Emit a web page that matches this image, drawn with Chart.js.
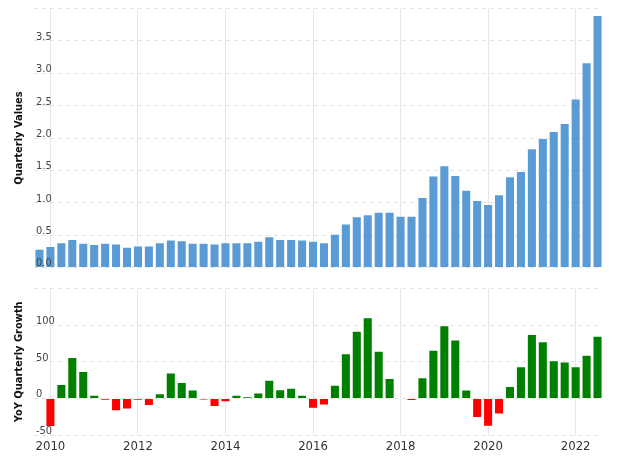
<!DOCTYPE html>
<html>
<head>
<meta charset="utf-8">
<script src="https://cdn.jsdelivr.net/npm/chart.js@4.4.0/dist/chart.umd.min.js"></script>
<style>
  html, body { margin: 0; padding: 0; background: #fff; }
  #wrap { position: relative; width: 624px; height: 456px; }
  .box { position: absolute; left: 0; width: 624px; }
</style>
</head>
<body>
<div id="wrap">
  <div class="box" style="top:0;height:276px"><canvas id="valuesChart"></canvas></div>
  <div class="box" style="top:280px;height:176px"><canvas id="growthChart"></canvas></div>
</div>
<script>
// quarter end months, Q3 2009 .. Q2 2022
const quarters = [
  '2009-09', '2009-12',
  '2010-03', '2010-06', '2010-09', '2010-12',
  '2011-03', '2011-06', '2011-09', '2011-12',
  '2012-03', '2012-06', '2012-09', '2012-12',
  '2013-03', '2013-06', '2013-09', '2013-12',
  '2014-03', '2014-06', '2014-09', '2014-12',
  '2015-03', '2015-06', '2015-09', '2015-12',
  '2016-03', '2016-06', '2016-09', '2016-12',
  '2017-03', '2017-06', '2017-09', '2017-12',
  '2018-03', '2018-06', '2018-09', '2018-12',
  '2019-03', '2019-06', '2019-09', '2019-12',
  '2020-03', '2020-06', '2020-09', '2020-12',
  '2021-03', '2021-06', '2021-09', '2021-12',
  '2022-03', '2022-06'
];

const quarterlyValues = [
  0.29, 0.33,
  0.39, 0.44, 0.38, 0.36,
  0.38, 0.37, 0.32, 0.34,
  0.34, 0.39, 0.43, 0.42,
  0.38, 0.38, 0.37, 0.39,
  0.39, 0.39, 0.41, 0.48,
  0.44, 0.44, 0.43, 0.41,
  0.39, 0.52, 0.68, 0.79,
  0.82, 0.86, 0.86, 0.80,
  0.80, 1.09, 1.42, 1.58,
  1.43, 1.20, 1.04, 0.98,
  1.13, 1.41, 1.49, 1.84,
  2.00, 2.11, 2.23, 2.61,
  3.17, 3.90
];

// YoY growth starts at Q4 2009
const yoyGrowth = [
  -39,
  19.6, 56.7, 37.5, 4.9,
  -2.7, -17.4, -15.2, -2.7,
  -10.3, 7.1, 35.3, 22.3,
  12.1, -2.2, -11.6, -5.4,
  4.9, 2.7, 8.0, 25.4,
  12.5, 14.7, 4.9, -14.3,
  -9.8, 18.8, 61.6, 92.4,
  110.7, 65.2, 27.7, 0.5,
  -3.5, 29.0, 66.5, 100,
  80.4, 12.1, -26.8, -38.8,
  -21.9, 17.0, 43.8, 87.9,
  78.1, 52.2, 50.4, 43.8,
  59.8, 85.7
];

const yearTicks = [2010, 2012, 2014, 2016, 2018, 2020, 2022];
const valueTicks = [0, 0.5, 1.0, 1.5, 2.0, 2.5, 3.0, 3.5, 4.0];
const growthTicks = [-50, 0, 50, 100, 150];

const FONT = '"DejaVu Sans Condensed", "DejaVu Sans", Verdana, sans-serif';

function toYear(q) {
  const [y, m] = q.split('-').map(Number);
  return y + m / 12;
}

const xValues = quarters.map(toYear);
const growthX = xValues.slice(quarters.length - yoyGrowth.length);

function xScale(showLabels, height) {
  return {
    type: 'linear',
    offset: false,
    min: 2009.625,
    max: 2022.625,
    afterBuildTicks: axis => { axis.ticks = yearTicks.map(v => ({ value: v })); },
    afterFit: axis => { axis.height = height; },
    grid: { color: '#e6e6e6', drawTicks: false, lineWidth: 1, offset: false },
    border: { display: false },
    ticks: {
      display: showLabels,
      padding: 4,
      color: '#333',
      font: { family: FONT, size: 13 },
      callback: v => String(v)
    }
  };
}

function yScale(title, min, max, ticks, fmt) {
  return {
    min: min,
    max: max,
    afterBuildTicks: axis => { axis.ticks = ticks.map(v => ({ value: v })); },
    afterFit: axis => { axis.width = 34; },
    border: { display: false, dash: [4, 4] },
    grid: { color: '#e3e3e3', drawTicks: false },
    title: {
      display: true,
      text: title,
      color: '#111',
      font: { family: FONT, size: 11, weight: 'bold' },
      padding: { top: 13, bottom: 0 }
    },
    ticks: {
      z: 1,
      mirror: true,
      padding: 2,
      labelOffset: -4,
      color: '#444',
      font: { family: FONT, size: 11 },
      callback: v => (v === max ? '' : fmt(v))
    }
  };
}

const commonPlugins = { legend: { display: false }, tooltip: { enabled: false } };

new Chart(document.getElementById('valuesChart'), {
  type: 'bar',
  data: {
    datasets: [{
      data: xValues.map((x, i) => ({ x: x, y: quarterlyValues[i] })),
      backgroundColor: '#5b9bd5',
      borderColor: 'rgba(255,255,255,0.2)',
      borderWidth: 1,
      barPercentage: 0.92,
      categoryPercentage: 1
    }]
  },
  options: {
    responsive: true,
    maintainAspectRatio: false,
    animation: false,
    layout: { padding: { top: 4, right: 21, left: 0, bottom: 0 } },
    plugins: commonPlugins,
    scales: {
      x: xScale(false, 7),
      y: yScale('Quarterly Values', 0, 4, valueTicks, v => v.toFixed(1))
    }
  }
});

new Chart(document.getElementById('growthChart'), {
  type: 'bar',
  data: {
    datasets: [{
      data: growthX.map((x, i) => ({ x: x, y: yoyGrowth[i] })),
      backgroundColor: yoyGrowth.map(v => (v >= 0 ? (v < 1 ? '#8fc48f' : '#008000') : '#ff0000')),
      borderColor: 'rgba(255,255,255,0.2)',
      borderWidth: 1,
      barPercentage: 0.92,
      categoryPercentage: 1
    }]
  },
  options: {
    responsive: true,
    maintainAspectRatio: false,
    animation: false,
    layout: { padding: { top: 4, right: 21, left: 0, bottom: 0 } },
    plugins: commonPlugins,
    scales: {
      x: xScale(true, 21),
      y: yScale('YoY Quarterly Growth', -50, 150, growthTicks, v => String(v))
    }
  }
});
</script>
</body>
</html>
